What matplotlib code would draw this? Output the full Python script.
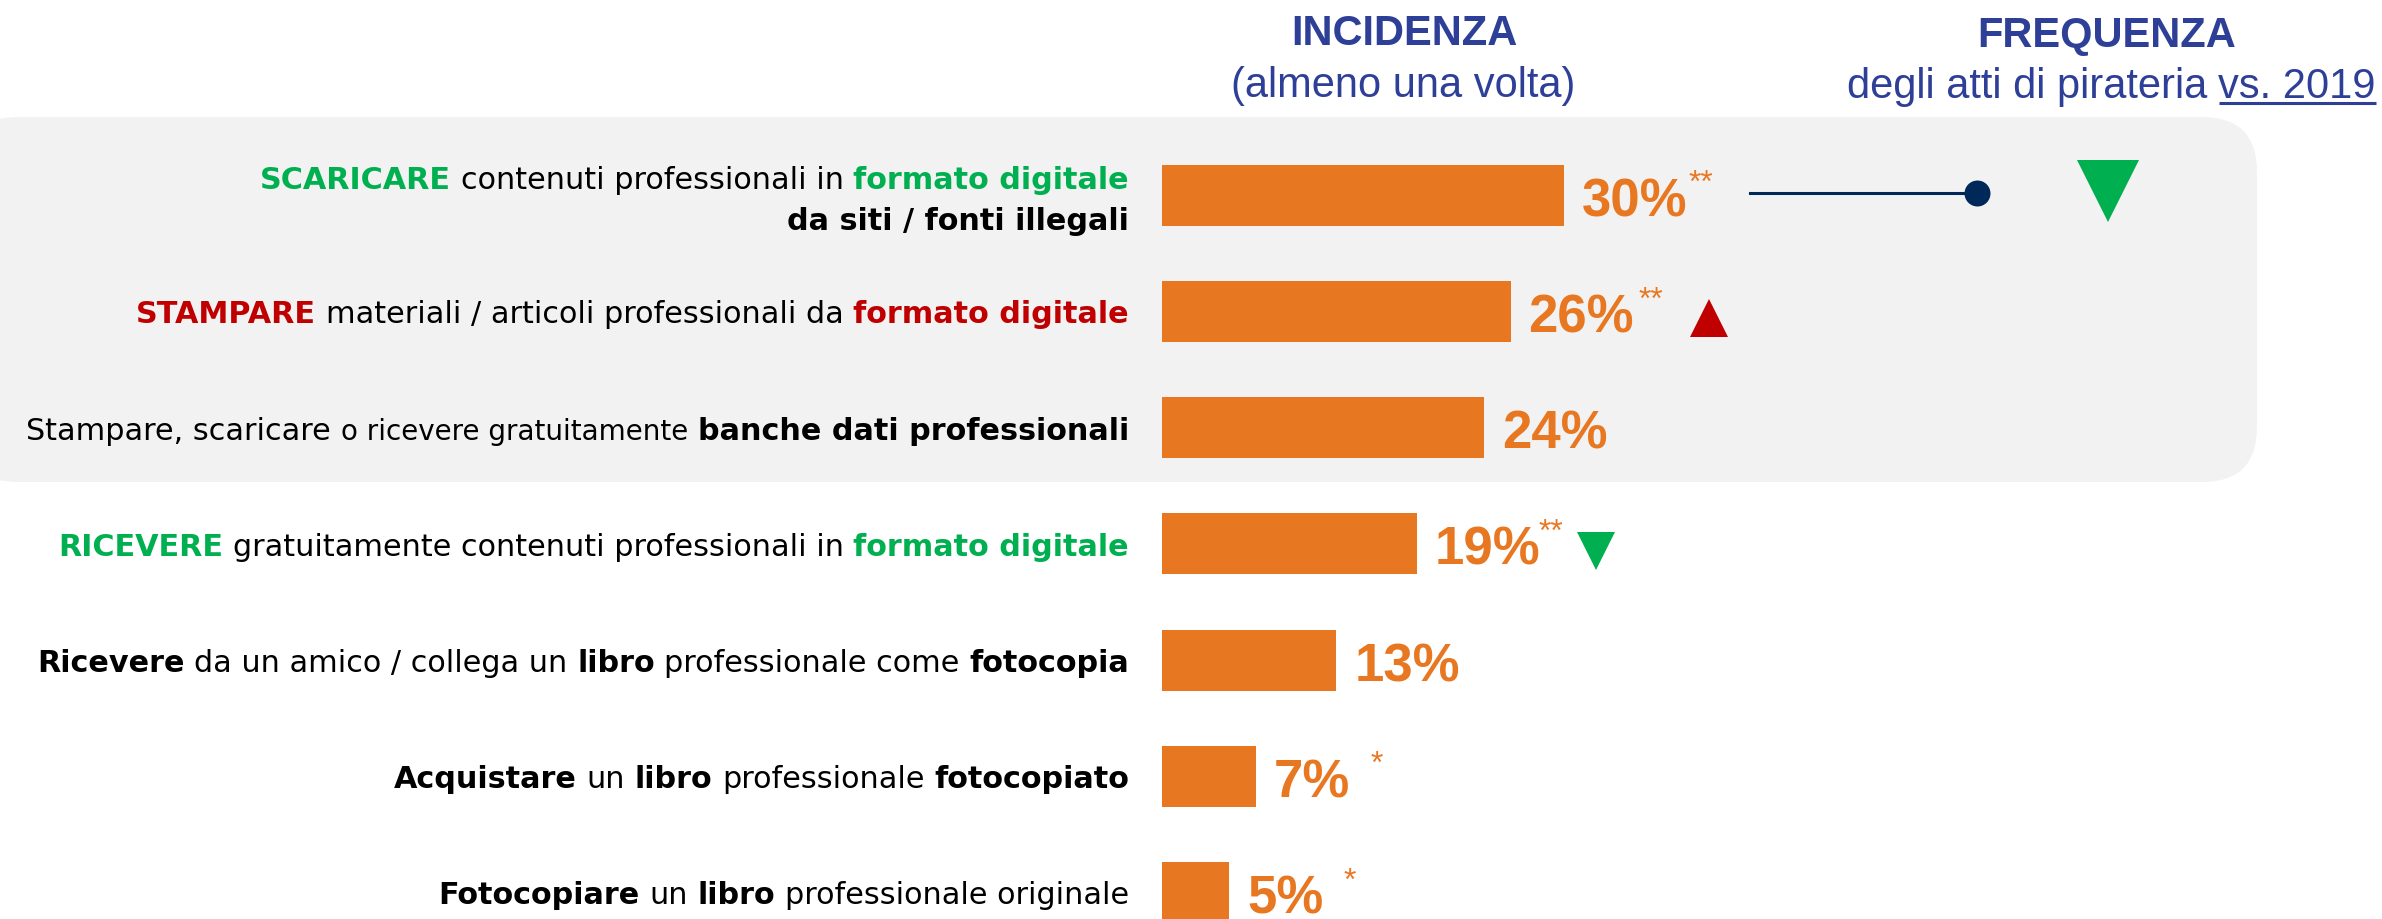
import matplotlib
matplotlib.use('Agg')
import matplotlib.pyplot as plt
from matplotlib.patches import FancyBboxPatch

# ---------------- data ----------------
categories = [
    'SCARICARE contenuti professionali in formato digitale da siti / fonti illegali',
    'STAMPARE materiali / articoli professionali da formato digitale',
    'Stampare, scaricare o ricevere gratuitamente banche dati professionali',
    'RICEVERE gratuitamente contenuti professionali in formato digitale',
    'Ricevere da un amico / collega un libro professionale come fotocopia',
    'Acquistare un libro professionale fotocopiato',
    'Fotocopiare un libro professionale originale',
]
values = [30, 26, 24, 19, 13, 7, 5]
value_labels = ['30%', '26%', '24%', '19%', '13%', '7%', '5%']
significance = ['**', '**', '', '**', '', '*', '*']
trend_vs_2019 = ['down', 'up', None, 'down', None, None, None]

header_incidenza = ['INCIDENZA', '(almeno una volta)']
header_frequenza = ['FREQUENZA', 'degli atti di pirateria', 'vs. 2019']

# rich text of the category labels: rows -> lines -> (text, style)
label_segments = [
    [[('SCARICARE', 'green'), ('contenuti professionali in', 'reg'), ('formato digitale', 'green')],
     [('da siti / fonti illegali', 'bold')]],
    [[('STAMPARE', 'red'), ('materiali / articoli professionali da', 'reg'), ('formato digitale', 'red')]],
    [[('Stampare, scaricare', 'reg'), ('o ricevere gratuitamente', 'small'), ('banche dati professionali', 'bold')]],
    [[('RICEVERE', 'green'), ('gratuitamente contenuti professionali in', 'reg'), ('formato digitale', 'green')]],
    [[('Ricevere', 'bold'), ('da un amico / collega un', 'reg'), ('libro', 'bold'),
      ('professionale come', 'reg'), ('fotocopia', 'bold')]],
    [[('Acquistare', 'bold'), ('un', 'reg'), ('libro', 'bold'), ('professionale', 'reg'), ('fotocopiato', 'bold')]],
    [[('Fotocopiare', 'bold'), ('un', 'reg'), ('libro', 'bold'), ('professionale originale', 'reg')]],
]

# ---------------- style / layout ----------------
W, H, DPI = 2382, 920, 100
ORANGE = '#E87722'
GREEN = '#00B050'
RED = '#C00000'
BLUE = '#2E3F98'
NAVY = '#00295A'
GRAY = '#F2F2F2'
ARIAL = 'Liberation Sans'
LABEL_FONT = 'DejaVu Sans'
LABEL_SIZE = 21.75

BAR_X0 = 1162.2        # px of the 0% baseline
PX_PER_PCT = 13.4
ROW0_Y = 196.3
ROW_STEP = 116.2
BAR_H = 0.525
LABEL_RIGHT = 1129

styles = {
    'reg': dict(fontweight='normal', color='black', fontsize=LABEL_SIZE),
    'bold': dict(fontweight='bold', color='black', fontsize=LABEL_SIZE),
    'green': dict(fontweight='bold', color=GREEN, fontsize=LABEL_SIZE),
    'red': dict(fontweight='bold', color=RED, fontsize=LABEL_SIZE),
    'small': dict(fontweight='normal', color='black', fontsize=20),
}

fig = plt.figure(figsize=(W / DPI, H / DPI), dpi=DPI)
fig.patch.set_facecolor('white')
bg = fig.add_axes([0, 0, 1, 1])
bg.set_xlim(0, W)
bg.set_ylim(H, 0)
bg.axis('off')

ax = fig.add_axes([0, 0, 1, 1])
ax.patch.set_alpha(0)
ax.set_xlim(-BAR_X0 / PX_PER_PCT, (W - BAR_X0) / PX_PER_PCT)
ax.set_ylim((H - ROW0_Y) / ROW_STEP, -ROW0_Y / ROW_STEP)
ax.axis('off')

renderer = fig.canvas.get_renderer()


def width_of(t):
    return t.get_window_extent(renderer).width


def to_bg(x, y):
    dx, dy = ax.transData.transform((x, y))
    return dx, H - dy


# grey rounded panel behind first three rows
bg.add_patch(FancyBboxPatch((-37, 118), 2257 + 37, 365,
                            boxstyle='round,pad=0,rounding_size=55',
                            fc=GRAY, ec='none', zorder=0))

# headers
bg.text(1404, 45, header_incidenza[0], ha='center', va='baseline', fontsize=30,
        fontweight='bold', color=BLUE, fontfamily=ARIAL)
bg.text(1403, 97, header_incidenza[1], ha='center', va='baseline', fontsize=30,
        color=BLUE, fontfamily=ARIAL)
bg.text(2107, 47, header_frequenza[0], ha='center', va='baseline', fontsize=30,
        fontweight='bold', color=BLUE, fontfamily=ARIAL)
tv = bg.text(2376, 98, header_frequenza[2], ha='right', va='baseline', fontsize=30,
             color=BLUE, fontfamily=ARIAL)
wv = width_of(tv)
bg.plot([2376 - wv, 2376], [104, 104], color=BLUE, lw=2.2, solid_capstyle='butt')
t_sp = bg.text(0, 0, 'x x', fontsize=30, fontfamily=ARIAL)
t_nsp = bg.text(0, 0, 'xx', fontsize=30, fontfamily=ARIAL)
sp_head = width_of(t_sp) - width_of(t_nsp)
t_sp.remove(); t_nsp.remove()
bg.text(2376 - wv - sp_head, 98, header_frequenza[1], ha='right', va='baseline',
        fontsize=30, color=BLUE, fontfamily=ARIAL)

# space width of label font
t_sp = bg.text(0, 0, 'x x', fontsize=LABEL_SIZE, fontfamily=LABEL_FONT)
t_nsp = bg.text(0, 0, 'xx', fontsize=LABEL_SIZE, fontfamily=LABEL_FONT)
sp_lab = width_of(t_sp) - width_of(t_nsp)
t_sp.remove(); t_nsp.remove()

# category labels
line_baselines = {1: [11], 2: [-7, 34]}
for i, lines in enumerate(label_segments):
    yc = to_bg(0, i)[1]
    for line, off in zip(lines, line_baselines[len(lines)]):
        x = LABEL_RIGHT
        for txt, st in reversed(line):
            t = bg.text(x, yc + off, txt, ha='right', va='baseline',
                        fontfamily=LABEL_FONT, **styles[st])
            x -= width_of(t) + sp_lab

# bars
rows = list(range(len(values)))
ax.barh(rows, values, height=BAR_H, left=0, color=ORANGE, zorder=2)

# value labels + significance stars
sig_gap = [1, 4, 0, -2, 0, 20, 20]
for i, (v, lab, sig) in enumerate(zip(values, value_labels, significance)):
    ann = ax.annotate(lab, xy=(v, i), xytext=(18, -20), textcoords='offset pixels',
                      ha='left', va='baseline', fontsize=38, fontweight='bold',
                      color=ORANGE, fontfamily=ARIAL)
    w = width_of(ann)
    if sig:
        ax.annotate(sig, xy=(v, i), xytext=(18 + w + sig_gap[i], 4), textcoords='offset pixels',
                    ha='left', va='baseline', fontsize=23, color=ORANGE, fontfamily=ARIAL)

# connector line + dot on first row
y0 = to_bg(0, 0)[1] - 2
bg.plot([1750, 1977], [y0, y0], color=NAVY, lw=2.2, zorder=3)
bg.plot([1977], [y0], 'o', color=NAVY, ms=18.7, mew=0, zorder=4)

# trend triangles vs 2019
FREQ_COL_X = 2108
trend_offset = [None, 198, None, 179, None, None, None]
trend_dy = [-4, 6, None, 7, None, None, None]
trend_size = [44, 27.5, None, 27.5, None, None, None]
for i, tr in enumerate(trend_vs_2019):
    if tr is None:
        continue
    xe, yc = to_bg(values[i], i)
    x = FREQ_COL_X if i == 0 else xe + trend_offset[i]
    marker = 'v' if tr == 'down' else '^'
    col = GREEN if tr == 'down' else RED
    bg.plot([x], [yc + trend_dy[i]], marker=marker, color=col, ms=trend_size[i], mew=0, zorder=4)

fig.savefig('out.png', dpi=DPI, facecolor='white')
